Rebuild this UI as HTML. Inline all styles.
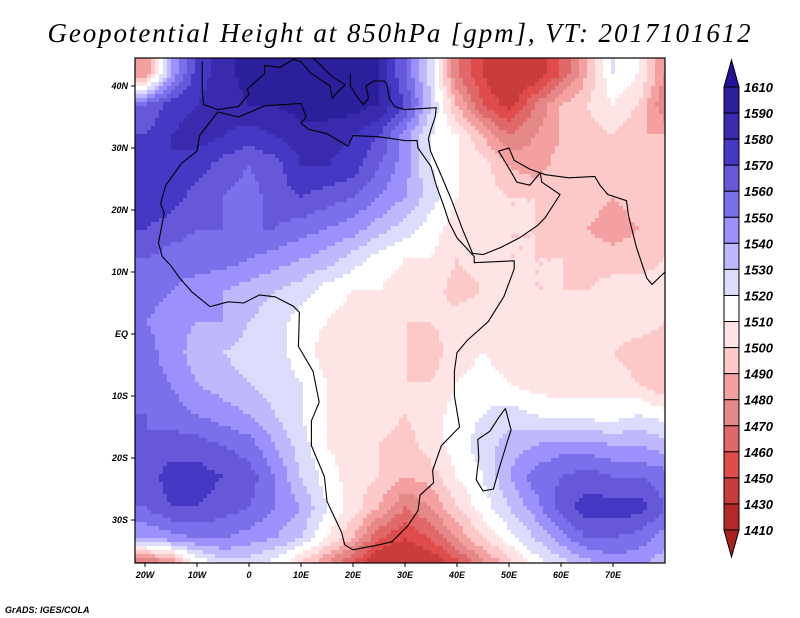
<!DOCTYPE html>
<html><head><meta charset="utf-8"><style>
html,body{margin:0;padding:0;background:#fff;}
svg{display:block;}
text{font-family:"Liberation Sans",sans-serif;}
</style></head><body>
<svg id="chart" width="800" height="618" viewBox="0 0 800 618" xmlns="http://www.w3.org/2000/svg">
<text x="400" y="42" text-anchor="middle" font-style="italic" font-size="27" fill="#000" style="font-family:'Liberation Serif',serif;letter-spacing:1.9px">Geopotential Height at 850hPa [gpm], VT: 2017101612</text>
<defs><clipPath id="plotclip"><rect x="135" y="58" width="530" height="505"/></clipPath></defs>
<g id="field" clip-path="url(#plotclip)"></g>
<g id="coast" clip-path="url(#plotclip)"></g>
<rect x="135" y="58" width="530" height="505" fill="none" stroke="#000" stroke-width="1.2"/>
<g id="axes"></g>
<g id="cbar"></g>
<text x="5" y="613" font-size="9" font-weight="bold" font-style="italic">GrADS: IGES/COLA</text>
</svg>
<script>
const lons = [-20,-15,-10,-5,0,5,10,15,20,25,30,35,40,45,50,55,60,65,70,75,80];
const lats = [42,37,32,27,22,17,12,7,2,-3,-8,-13,-18,-23,-28,-33,-38];
const gpmRow42  = [1480,1540,1575,1585,1595,1595,1595,1595,1595,1590,1560,1525,1470,1450,1430,1440,1460,1490,1520,1510,1480];
const gpmRow37  = [1560,1575,1580,1585,1590,1590,1595,1595,1595,1590,1570,1530,1490,1460,1445,1470,1490,1500,1510,1500,1470];
const gpmRow32  = [1570,1580,1585,1580,1575,1580,1585,1585,1580,1570,1545,1520,1510,1490,1470,1480,1490,1495,1500,1490,1490];
const gpmRow27  = [1575,1580,1575,1565,1560,1565,1580,1580,1575,1560,1545,1520,1510,1505,1490,1485,1495,1495,1490,1490,1495];
const gpmRow22  = [1580,1575,1565,1560,1555,1565,1570,1565,1560,1550,1540,1525,1510,1505,1500,1500,1495,1495,1490,1495,1495];
const gpmRow17  = [1570,1565,1560,1560,1560,1560,1555,1550,1545,1535,1525,1515,1505,1505,1500,1500,1495,1490,1485,1490,1495];
const gpmRow12  = [1560,1555,1555,1555,1550,1545,1540,1535,1525,1515,1510,1510,1500,1505,1500,1500,1500,1495,1495,1495,1500];
const gpmRow7   = [1555,1550,1545,1540,1535,1530,1525,1515,1510,1510,1505,1505,1495,1500,1505,1500,1500,1500,1505,1505,1505];
const gpmRow2   = [1550,1545,1540,1540,1530,1525,1515,1510,1505,1505,1500,1500,1505,1510,1505,1505,1505,1505,1505,1505,1500];
const gpmRowS3  = [1555,1545,1535,1530,1525,1525,1515,1505,1505,1505,1500,1495,1505,1510,1505,1505,1505,1505,1500,1495,1495];
const gpmRowS8  = [1555,1550,1540,1535,1530,1525,1520,1510,1505,1500,1500,1500,1510,1515,1510,1505,1505,1505,1505,1500,1490];
const gpmRowS13 = [1560,1555,1550,1545,1540,1530,1520,1510,1505,1505,1500,1505,1515,1520,1525,1520,1515,1515,1515,1520,1515];
const gpmRowS18 = [1560,1565,1565,1560,1555,1540,1525,1510,1505,1500,1495,1505,1515,1525,1535,1540,1545,1545,1540,1540,1535];
const gpmRowS23 = [1565,1575,1575,1570,1565,1550,1530,1515,1505,1500,1490,1495,1510,1520,1540,1555,1560,1565,1560,1560,1555];
const gpmRowS28 = [1560,1570,1570,1565,1560,1550,1540,1520,1505,1490,1470,1480,1500,1515,1530,1545,1565,1575,1575,1575,1560];
const gpmRowS33 = [1540,1545,1550,1550,1545,1540,1530,1510,1490,1460,1450,1460,1480,1500,1515,1530,1545,1560,1560,1555,1545];
const gpmRowS38 = [1440,1460,1500,1520,1520,1510,1490,1470,1450,1430,1425,1435,1450,1470,1490,1510,1520,1530,1540,1540,1530];
const gpm = [gpmRow42,gpmRow37,gpmRow32,gpmRow27,gpmRow22,gpmRow17,gpmRow12,gpmRow7,gpmRow2,gpmRowS3,gpmRowS8,gpmRowS13,gpmRowS18,gpmRowS23,gpmRowS28,gpmRowS33,gpmRowS38];
const levels = [1610,1590,1580,1570,1560,1550,1540,1530,1520,1510,1500,1490,1480,1470,1460,1450,1430,1410];
const levelColors = ["#24119a","#2c1f9c","#3a2aae","#4538c4","#6658d8","#7a70ec","#9c90fc","#c0b8fc","#dcdcfc","#ffffff","#fee4e4","#fcc8c8","#f4a0a0","#e48888","#e06868","#e04c4c","#c83c3c","#b42828","#a82020"];
const lonTicks = [-20,-10,0,10,20,30,40,50,60,70];
const lonTickLabels = ["20W","10W","0","10E","20E","30E","40E","50E","60E","70E"];
const latTicks = [40,30,20,10,0,-10,-20,-30];
const latTickLabels = ["40N","30N","20N","10N","EQ","10S","20S","30S"];

const NS="http://www.w3.org/2000/svg";
const xOf = lon => 249 + lon*5.2;
const yOf = lat => 334 - lat*6.2;
const lonOf = x => (x-249)/5.2;
const latOf = y => (334-y)/6.2;
function colorFor(v){let i=0;for(const t of levels){if(t>v)i++;}return levelColors[i];}
function sample(lon,lat){
  let fi=(lon-lons[0])/5, fj=(lats[0]-lat)/5;
  fi=Math.max(0,Math.min(lons.length-1.0001,fi));
  fj=Math.max(0,Math.min(lats.length-1.0001,fj));
  const i=Math.floor(fi),j=Math.floor(fj),a=fi-i,b=fj-j;
  return (1-a)*(1-b)*gpm[j][i]+a*(1-b)*gpm[j][i+1]+(1-a)*b*gpm[j+1][i]+a*b*gpm[j+1][i+1];
}
function mk(tag,attrs,parent){const e=document.createElementNS(NS,tag);for(const k in attrs)e.setAttribute(k,attrs[k]);parent.appendChild(e);return e;}
const field=document.getElementById('field');
const S=4;
for(let y=58;y<563;y+=S){for(let x=135;x<665;x+=S){
  const v=sample(lonOf(x+S/2),latOf(y+S/2));
  const r=mk('rect',{x:x,y:y,width:S+0.5,height:S+0.5,fill:colorFor(v)},field);
  
  
}}
const coasts = {
 "africa-coast":[[-17,21],[-16,24],[-13,27.5],[-10,29.5],[-9.5,32],[-6,35.8],[-2,35],[3,36.8],[10,37.2],[11,35],[10,34],[11.5,33],[15,32.3],[19,30.3],[20,32],[25,31.8],[30,31.2],[32.3,31.2],[32.5,30],[35,27],[36,24],[37.3,21],[38.5,18],[40,15.5],[43.3,12.5],[43.3,11.5],[51,11.8],[51,10.5],[49,6],[46,2],[42,-1],[40,-3],[39.5,-6],[39.5,-10],[40.5,-15],[37,-18],[35.3,-22],[35.5,-24],[32.9,-26],[32.5,-28.5],[30.5,-31],[27.5,-33.5],[25,-34],[20,-34.8],[18.4,-34],[17.8,-32],[15,-27],[14.5,-23],[12,-18],[12,-14],[13.5,-11],[12.3,-6],[9.5,-2],[9.7,3.5],[8.5,4.5],[5,6],[2,6.3],[-1,5],[-4,5.2],[-7.5,4.4],[-11,6.8],[-13.3,9],[-15,11],[-16.7,12.5],[-17.4,14.7],[-16.3,19.5],[-17,21]],
 "arabia-coast":[[34.5,31.5],[34.9,29.5],[37,25.5],[39,21.5],[41,17],[43,13],[45,12.8],[48.5,14],[52,15.5],[55.5,17.5],[57,18.8],[59.8,22.5],[56.3,24.5],[56,26],[54,24],[51.5,24.5],[50.5,26],[48,29.5],[50,30],[51,28],[54,26.6],[57,25.7],[61.5,25.2],[66.5,25.4],[67.5,24],[69,22.5],[72.6,21.5],[73,19],[74.5,14],[76.5,9],[77.5,8],[80,10]],
 "iberia-coast":[[-9,44],[-9,39],[-8.7,37],[-6,36.2],[-2,36.7],[0,38.7],[-0.3,39.5],[3,42],[3,43.3],[6,43],[8.5,44.3],[10,43.9],[12,42],[15.6,40],[16,38],[17,39],[18.5,40.2],[16,41.5],[13.5,43.6],[12.3,44.5]],
 "greece-turkey-coast":[[19.5,42],[19.5,40],[21,38],[22,37],[23,38],[22.5,40],[24,40.8],[26,40.8],[26.5,40.3],[27,38],[28,36.7],[30,36.2],[36,36.5],[35.8,35],[35,33],[34.5,31.5]],
 "madagascar-coast":[[49.3,-12],[50.4,-15.5],[49.8,-17],[48,-22],[47,-25],[45,-25.3],[43.7,-23.5],[44.2,-20],[44,-17],[46.3,-15.7],[48,-13.5],[49.3,-12]]
};
const coast=document.getElementById('coast');
for(const k in coasts){
  const p=mk('polyline',{points:coasts[k].map(c=>xOf(c[0]).toFixed(1)+','+yOf(c[1]).toFixed(1)).join(' '),fill:'none',stroke:'#000','stroke-width':1.1},coast);
  
  
}
const axes=document.getElementById('axes');
lonTicks.forEach((lon,i)=>{
  const x=xOf(lon);
  mk('line',{x1:x,y1:563,x2:x,y2:567,stroke:'#000'},axes);
  const t=mk('text',{x:x,y:578,'text-anchor':'middle','font-size':9,'font-weight':'bold','font-style':'italic'},axes);
  t.textContent=lonTickLabels[i];
  
  
});
latTicks.forEach((lat,i)=>{
  const y=yOf(lat);
  mk('line',{x1:131,y1:y,x2:135,y2:y,stroke:'#000'},axes);
  const t=mk('text',{x:128,y:y+3,'text-anchor':'end','font-size':9,'font-weight':'bold','font-style':'italic'},axes);
  t.textContent=latTickLabels[i];
  
  
});
const cb=document.getElementById('cbar');
const cbTop=87,bh=26.06,cx0=724,cx1=739;
const tTop=mk('polygon',{points:`${cx0},${cbTop} ${cx1},${cbTop} ${(cx0+cx1)/2},60`,fill:levelColors[0],stroke:'#000','stroke-width':1},cb);


for(let i=1;i<=17;i++){
  const r=mk('rect',{x:cx0,y:cbTop+(i-1)*bh,width:cx1-cx0,height:bh,fill:levelColors[i],stroke:'#000','stroke-width':1},cb);
  
  
}
const cbBot=cbTop+17*bh;
const tBot=mk('polygon',{points:`${cx0},${cbBot} ${cx1},${cbBot} ${(cx0+cx1)/2},557`,fill:levelColors[18],stroke:'#000','stroke-width':1},cb);


levels.forEach((lv,i)=>{
  const t=mk('text',{x:744,y:cbTop+i*bh+5,'font-size':13,'font-weight':'bold','font-style':'italic'},cb);
  t.textContent=lv;
  
  
});
</script>
</body></html>
